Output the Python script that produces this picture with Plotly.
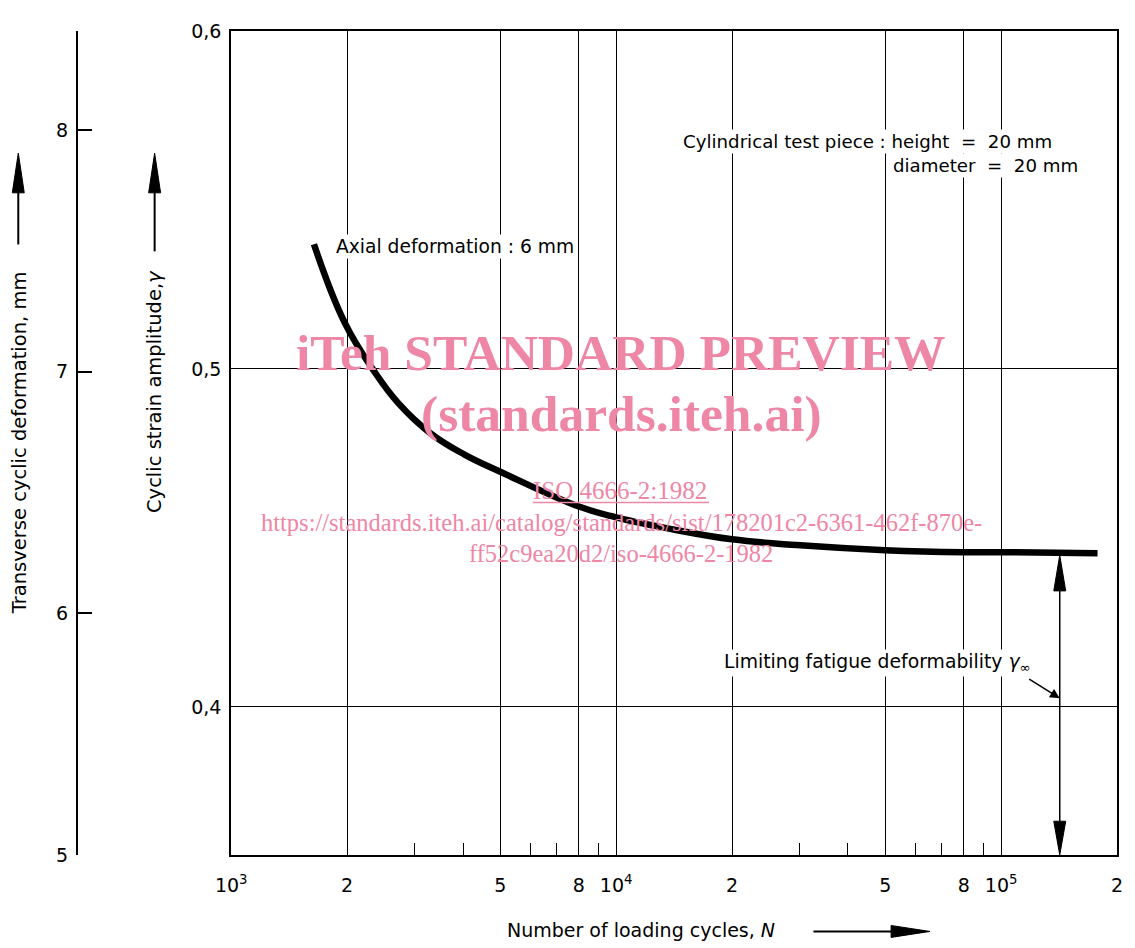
import math
import plotly.graph_objects as go

# ---------------- data ----------------
N_curve = [1640, 1971, 2342, 2716, 3307, 4048, 5000, 8000, 10000, 14400, 20000, 29400, 50000, 80000, 100000, 178000]
gamma_curve = [0.5369, 0.5137, 0.4996, 0.4899, 0.4808, 0.4746, 0.4696, 0.4593, 0.4561, 0.4523, 0.4496, 0.4479, 0.4464, 0.4458, 0.4458, 0.4455]

x_major = [1e3, 2e3, 5e3, 8e3, 1e4, 2e4, 5e4, 8e4, 1e5, 2e5]
x_major_text = ["10<sup>3</sup>", "2", "5", "8", "10<sup>4</sup>", "2", "5", "8", "10<sup>5</sup>", "2"]
x_minor = [3e3, 4e3, 6e3, 7e3, 9e3, 3e4, 4e4, 6e4, 7e4, 9e4]

y_ticks = [0.4, 0.5, 0.6]
y_text = ["0,4", "0,5", "0,6"]
mm_ticks = [5, 6, 7, 8]

N_limit = 142000      # position of the limiting arrow
gamma_inf = 0.4458    # limiting fatigue deformability

# ---------------- geometry helpers (page pixel coordinates) ----------------
OFF = 8                      # default body margin of the html page
PAGE_W, PAGE_H = 1135, 948
W, H = PAGE_W - OFF, PAGE_H - OFF
AX_MM = 77                   # page x of mm axis
X0, X1 = 232, 1122           # page x of plot area
Y0, Y1 = 25, 855             # page y of plot area
PW, PH = X1 - AX_MM, Y1 - Y0


def px(x):
    return (x - AX_MM) / PW


def py(y):
    return (Y1 - y) / PH


xlog0, xlog1 = 3.0, math.log10(2e5)
ymin, ymax = 0.3562, 0.6


def n_to_px(n):
    return X0 + (math.log10(n) - xlog0) / (xlog1 - xlog0) * (X1 - X0)


def g_to_py(g):
    return Y0 + (ymax - g) / (ymax - ymin) * PH


FONT = "DejaVu Sans, Liberation Sans, sans-serif"
SERIF = "Liberation Serif, Times New Roman, serif"
PINK = "rgb(238,134,166)"

fig = go.Figure()

fig.add_trace(go.Scatter(
    x=N_curve, y=gamma_curve, mode="lines",
    line=dict(color="black", width=6.5, shape="spline", smoothing=1.2),
    hoverinfo="skip", showlegend=False,
))
# invisible trace on mm axis so that it is drawn
fig.add_trace(go.Scatter(x=[1e3], y=[5], yaxis="y2", mode="markers",
                         marker=dict(opacity=0), hoverinfo="skip", showlegend=False))

shapes = []


def line(x0, y0, x1, y1, w=2):
    shapes.append(dict(type="line", xref="paper", yref="paper",
                       x0=px(x0), y0=py(y0), x1=px(x1), y1=py(y1),
                       line=dict(color="black", width=w)))


def tri(pts):
    path = "M " + " L ".join(f"{px(a)},{py(b)}" for a, b in pts) + " Z"
    shapes.append(dict(type="path", xref="paper", yref="paper", path=path,
                       fillcolor="black", line=dict(color="black", width=1)))


# arrows beside y axis titles
line(18, 240, 18, 184)
tri([(18, 148), (12, 188), (24, 188)])
line(155, 247, 155, 184)
tri([(155, 148), (149, 188), (161, 188)])
# arrow after x title
line(817, 932, 897, 932)
tri([(934, 932), (895, 926), (895, 938)])

# limiting double arrow
xl = n_to_px(N_limit)
yl = g_to_py(gamma_inf) + 3
line(xl, yl + 30, xl, 825, 1.5)
tri([(xl, yl), (xl - 6, yl + 36), (xl + 6, yl + 36)])
tri([(xl, 855), (xl - 6, 821), (xl + 6, 821)])

annotations = []


def text(x, y, s, size=19, xanchor="center", angle=0, bg=None, color="black", family=FONT):
    a = dict(xref="paper", yref="paper", x=px(x), y=py(y), text=s, showarrow=False,
             xanchor=xanchor, yanchor="middle", textangle=angle,
             font=dict(family=family, size=size, color=color))
    if bg:
        a["bgcolor"] = bg
    annotations.append(a)


nb = "\u00a0"
text(19, 440, "Transverse cyclic deformation, mm", size=19.5, angle=-90)
text(155, 388, "Cyclic strain amplitude,<i>γ</i>", size=19.5, angle=-90)
text(644, 931, "Number of loading cycles, <i>N</i>", size=19)
text(335, 242, "Axial deformation : 6 mm", size=18.7, xanchor="left", bg="white")
text(684, 136, f"Cylindrical test piece : height {nb}={nb} 20 mm", size=18.2, xanchor="left", bg="white")
text(895, 160, f"diameter {nb}={nb} 20 mm", size=18.2, xanchor="left", bg="white")
text(725, 662, "Limiting fatigue deformability <i>γ</i><sub>∞</sub>", size=18.8, xanchor="left", bg="white")

# small pointer arrow to the limiting arrow
annotations.append(dict(xref="x", yref="y", x=math.log10(N_limit), y=0.4026,
                        ax=-32, ay=-20, axref="pixel", ayref="pixel",
                        showarrow=True, arrowhead=2, arrowsize=1.3, arrowwidth=1.5,
                        arrowcolor="black", text=""))

# watermark
text(624, 349, "<b>iTeh STANDARD PREVIEW</b>", size=51.5, color=PINK, family=SERIF)
text(624, 410, "<b>(standards.iteh.ai)</b>", size=51.5, color=PINK, family=SERIF)
text(623, 488, "ISO 4666-2:1982", size=25, color=PINK, family=SERIF)
shapes.append(dict(type="line", xref="paper", yref="paper", x0=px(535), x1=px(712),
                   y0=py(500), y1=py(500), line=dict(color=PINK, width=1.5)))
text(624, 520, "https://standards.iteh.ai/catalog/standards/sist/178201c2-6361-462f-870e-",
     size=24.5, color=PINK, family=SERIF)
text(624, 551, "ff52c9ea20d2/iso-4666-2-1982", size=24.5, color=PINK, family=SERIF)

dom0 = (X0 - AX_MM) / PW

fig.update_layout(
    width=W, height=H,
    margin=dict(l=AX_MM - OFF, r=PAGE_W - X1, t=Y0 - OFF, b=PAGE_H - Y1, pad=0),
    paper_bgcolor="white", plot_bgcolor="white",
    showlegend=False,
    font=dict(family=FONT, color="black", size=20),
    xaxis=dict(
        type="log", range=[xlog0, xlog1], domain=[dom0, 1],
        tickmode="array", tickvals=x_major, ticktext=x_major_text,
        showgrid=True, gridcolor="black", gridwidth=1.4,
        showline=True, linecolor="black", linewidth=2, mirror=True,
        ticks="", ticklabelstandoff=12,
        tickfont=dict(family=FONT, size=19),
        minor=dict(tickmode="array", tickvals=x_minor, ticks="inside", ticklen=12,
                   tickwidth=1.4, tickcolor="black", showgrid=False),
        zeroline=False,
    ),
    yaxis=dict(
        range=[ymin, ymax], tickmode="array", tickvals=y_ticks, ticktext=y_text,
        showgrid=True, gridcolor="black", gridwidth=1.4,
        showline=True, linecolor="black", linewidth=2, mirror=True,
        ticks="", ticklabelstandoff=4, zeroline=False,
        tickfont=dict(family=FONT, size=19),
    ),
    yaxis2=dict(
        overlaying="y", anchor="free", position=0, side="left",
        range=[5, 8.41], tickmode="array", tickvals=mm_ticks,
        showgrid=False, zeroline=False,
        showline=True, linecolor="black", linewidth=2,
        ticks="inside", ticklen=14, tickwidth=1.5, tickcolor="black",
        ticklabelstandoff=4,
        tickfont=dict(family=FONT, size=19),
    ),
    shapes=shapes,
    annotations=annotations,
)

fig.write_html("out.html")
